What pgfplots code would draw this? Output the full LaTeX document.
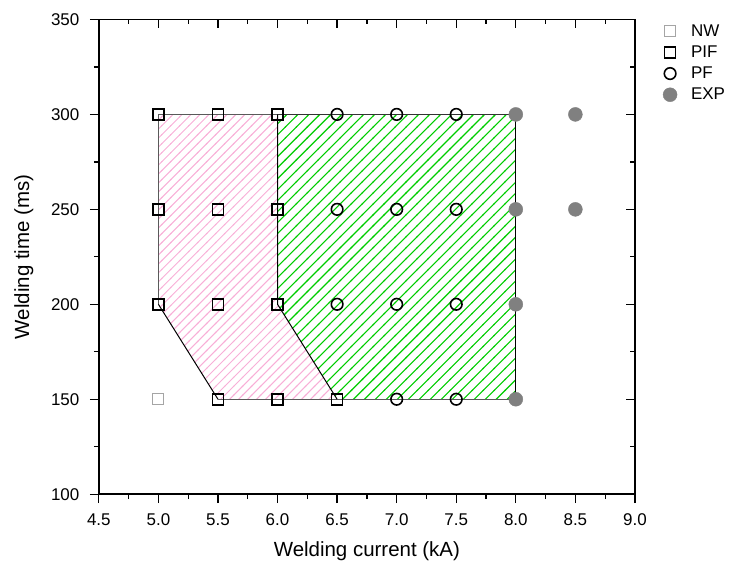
\documentclass[border=0pt]{standalone}
\usepackage{fontspec}
\setmainfont{Liberation Sans}
\usepackage{pgfplots}
\pgfplotsset{compat=1.18}
\usetikzlibrary{patterns}
\definecolor{hpink}{RGB}{248,175,215}
\definecolor{hgreen}{RGB}{0,204,0}
\definecolor{expgray}{RGB}{128,128,128}
\definecolor{nwgray}{RGB}{165,165,165}
\definecolor{edgegray}{RGB}{90,90,90}
\pgfdeclarepatternformonly{hatchpink}{\pgfqpoint{-1pt}{-1pt}}{\pgfqpoint{10pt}{10pt}}{\pgfqpoint{9pt}{9pt}}{%
  \pgfsetlinewidth{1pt}%
  \pgfpathmoveto{\pgfqpoint{-0.5pt}{-0.5pt}}%
  \pgfpathlineto{\pgfqpoint{9.5pt}{9.5pt}}%
  \pgfusepath{stroke}}
\pgfdeclarepatternformonly{hatchgreen}{\pgfqpoint{-1pt}{-1pt}}{\pgfqpoint{12pt}{12pt}}{\pgfqpoint{11pt}{11pt}}{%
  \pgfsetlinewidth{1.1pt}%
  \pgfpathmoveto{\pgfqpoint{-0.5pt}{-0.5pt}}%
  \pgfpathlineto{\pgfqpoint{11.5pt}{11.5pt}}%
  \pgfusepath{stroke}}
\begin{document}
\begin{tikzpicture}
\pgfplotsset{
  common/.style={width=537pt,height=475.5pt,scale only axis,
    xmin=4.5,xmax=9.0,ymin=100,ymax=350,
    xtick={4.5,5.0,5.5,6.0,6.5,7.0,7.5,8.0,8.5,9.0},
    ytick={100,150,200,250,300,350},
    minor x tick num=1, minor y tick num=1,
    major tick length=9pt, minor tick length=5pt,
    axis line style={line width=1.4pt},
    every tick/.style={black,line width=1.3pt},
    tick label style={font=\fontsize{17}{20}\selectfont}}
}
\begin{axis}[common, name=ax, axis x line*=bottom, axis y line*=left, tick align=outside,
  xticklabels={4.5,5.0,5.5,6.0,6.5,7.0,7.5,8.0,8.5,9.0},
  yticklabels={100,150,200,250,300,350},
  xticklabel style={yshift=-7pt},
  yticklabel style={xshift=-7pt},
  xlabel={Welding current (kA)}, ylabel={Welding time (ms)},
  every axis x label/.style={at={(axis description cs:0.5,-0.1199)}, anchor=center,
    font=\fontsize{20.5}{24}\selectfont},
  every axis y label/.style={at={(axis description cs:-0.1397,0.5)}, anchor=center, rotate=90,
    font=\fontsize{20.5}{24}\selectfont},
  legend style={at={(1,1)}, anchor=north west, xshift=25pt, yshift=-1pt, draw=none, fill=none,
    font=\fontsize{17}{20}\selectfont, row sep=4pt,
    /tikz/every odd column/.append style={column sep=12pt}},
  legend cell align=left,
  clip=false]
% hatched regions
\addplot[draw=none, pattern=hatchpink, pattern color=hpink, forget plot]
  coordinates {(5,300) (6,300) (6,200) (6.5,150) (5.5,150) (5,200)} -- cycle;
\addplot[draw=none, pattern=hatchgreen, pattern color=hgreen, forget plot]
  coordinates {(6,300) (8,300) (8,150) (6.5,150) (6,200)} -- cycle;
% edges
\addplot[edgegray, line width=1pt, forget plot] coordinates {(6,200) (6,300) (5,300) (5,200)};
\addplot[black, line width=1pt, forget plot] coordinates {(5,200) (5.5,150)};
\addplot[edgegray, line width=1pt, forget plot] coordinates {(5.5,150) (8,150)};
\addplot[black, line width=1pt, forget plot] coordinates {(6,300) (6,200) (6.5,150)};
\addplot[black!80, line width=1pt, forget plot] coordinates {(6,300) (8,300)};
\addplot[black, line width=1pt, forget plot] coordinates {(8,300) (8,150)};
% markers
\addplot[only marks, mark=square, mark size=5.5pt, draw=nwgray, mark options={line width=1pt}]
  coordinates {(5,150)};
\addlegendentry{NW}
\addplot[only marks, mark=square, mark size=5.5pt, black, mark options={line width=1.6pt}]
  coordinates {(5,300) (5.5,300) (6,300) (5,250) (5.5,250) (6,250) (5,200) (5.5,200) (6,200) (5.5,150) (6,150) (6.5,150)};
\addlegendentry{PIF}
\addplot[only marks, mark=o, mark size=5.8pt, black, mark options={line width=1.6pt}]
  coordinates {(6.5,300) (7,300) (7.5,300) (6.5,250) (7,250) (7.5,250) (6.5,200) (7,200) (7.5,200) (7,150) (7.5,150)};
\addlegendentry{PF}
\addplot[only marks, mark=*, mark size=7pt, draw=expgray, fill=expgray]
  coordinates {(8,300) (8.5,300) (8,250) (8.5,250) (8,200) (8,150)};
\addlegendentry{EXP}
\end{axis}
\begin{axis}[common, axis x line*=top, axis y line*=right, tick align=inside,
  xticklabels={}, yticklabels={}]
\end{axis}
\path[use as bounding box] ([xshift=-99pt,yshift=-72pt]ax.south west) rectangle ([xshift=94pt,yshift=19.5pt]ax.north east);
\end{tikzpicture}
\end{document}
